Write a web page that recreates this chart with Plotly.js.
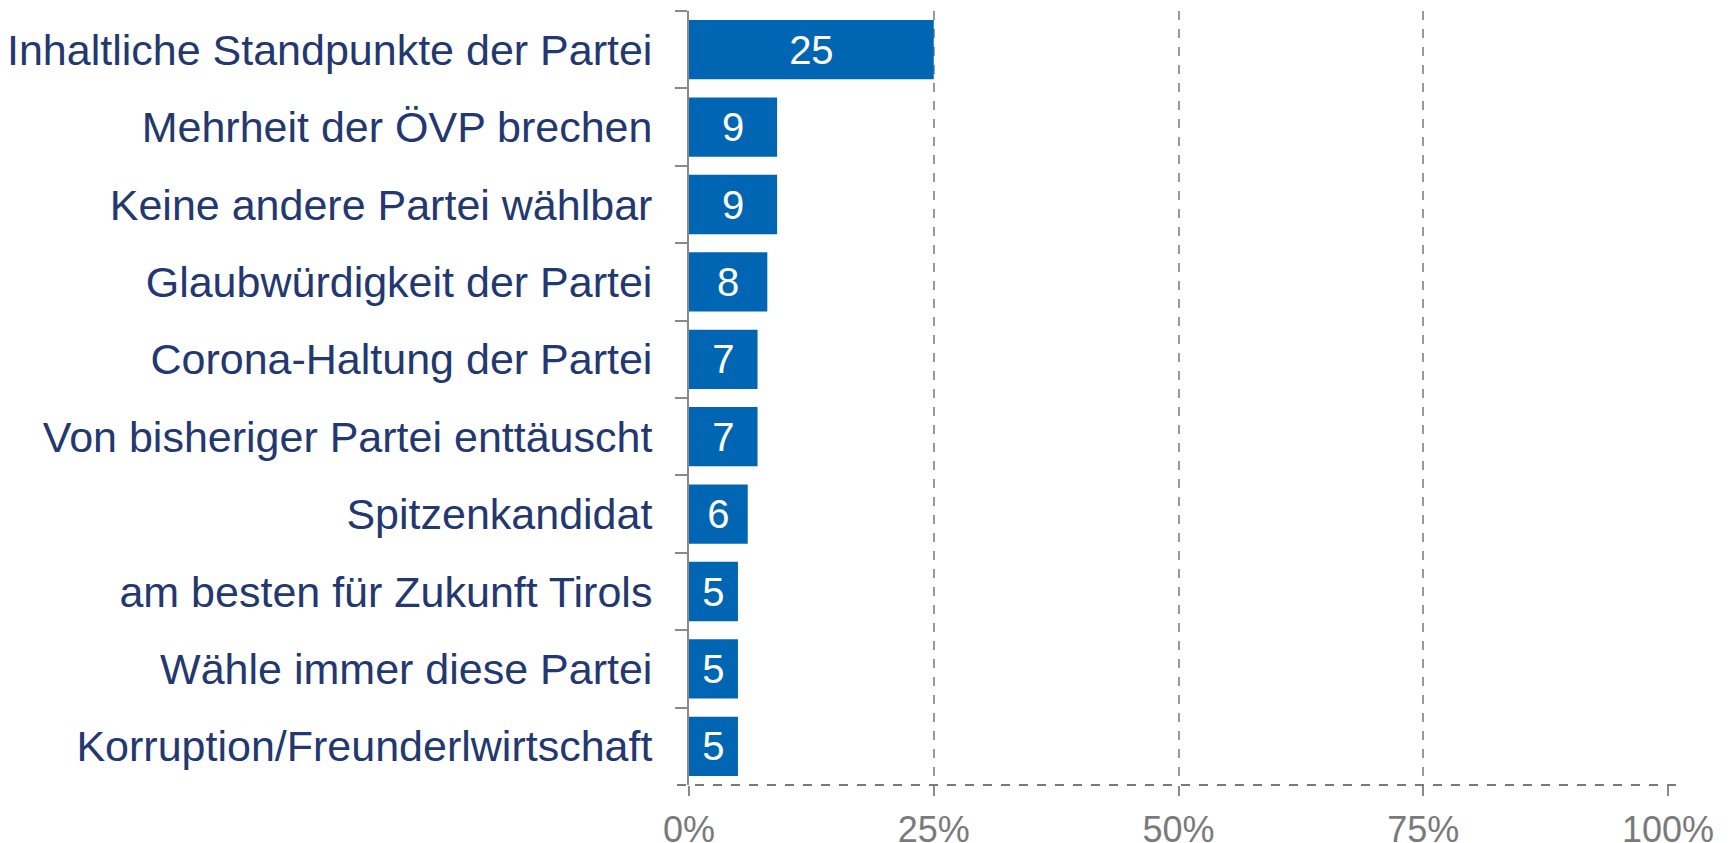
<!DOCTYPE html>
<html>
<head>
<meta charset="utf-8">
<script src="https://cdn.plot.ly/plotly-3.0.1.min.js"></script>
<style>html,body{margin:0;padding:0;background:#fff;}#chart{width:1734px;height:843px;}</style>
</head>
<body>
<div id="chart"></div>
<script>
const categories = [
  "Inhaltliche Standpunkte der Partei",
  "Mehrheit der ÖVP brechen",
  "Keine andere Partei wählbar",
  "Glaubwürdigkeit der Partei",
  "Corona-Haltung der Partei",
  "Von bisheriger Partei enttäuscht",
  "Spitzenkandidat",
  "am besten für Zukunft Tirols",
  "Wähle immer diese Partei",
  "Korruption/Freunderlwirtschaft"
];
const values = [25, 9, 9, 8, 7, 7, 6, 5, 5, 5];
const tickValues = [0, 25, 50, 75, 100];
const tickLabels = ["0%", "25%", "50%", "75%", "100%"];

const font = "Liberation Sans, Arial, sans-serif";

const trace = {
  type: "bar",
  orientation: "h",
  x: values,
  y: categories,
  text: values.map(String),
  textposition: "inside",
  insidetextanchor: "middle",
  constraintext: "none",
  textfont: {family: font, size: 40, color: "#ffffff"},
  marker: {color: "#0066b3"},
  hoverinfo: "none"
};

const layout = {
  width: 1734,
  height: 843,
  margin: {l: 689, r: 66, t: 11, b: 58, pad: 0},
  paper_bgcolor: "#ffffff",
  plot_bgcolor: "#ffffff",
  showlegend: false,
  bargap: 0.234,
  font: {family: font},
  xaxis: {
    range: [0, 100],
    tickvals: tickValues,
    ticktext: tickLabels,
    showgrid: true,
    griddash: "dash",
    gridcolor: "#9a9a9a",
    gridwidth: 2,
    zeroline: false,
    showline: false,
    ticks: "outside",
    ticklen: 10,
    tickwidth: 2,
    tickcolor: "#8a8a8a",
    ticklabelstandoff: 3,
    tickfont: {family: font, size: 36, color: "#7a7a7a"},
    fixedrange: true
  },
  yaxis: {
    type: "category",
    autorange: "reversed",
    tickson: "boundaries",
    ticks: "outside",
    ticklen: 12,
    tickwidth: 2,
    tickcolor: "#8a8a8a",
    showline: true,
    linecolor: "#8a8a8a",
    linewidth: 2,
    showgrid: false,
    zeroline: false,
    ticklabelstandoff: 26,
    tickfont: {family: font, size: 43, color: "#233870"},
    fixedrange: true
  },
  shapes: [{
    type: "line",
    xref: "paper", yref: "paper",
    x0: -12 / 979, x1: 1 + 9 / 979,
    y0: 0, y1: 0,
    line: {color: "#7a7a7a", width: 2, dash: "dash"},
    layer: "above"
  }]
};

Plotly.newPlot("chart", [trace], layout, {displayModeBar: false, staticPlot: true});
</script>
</body>
</html>
